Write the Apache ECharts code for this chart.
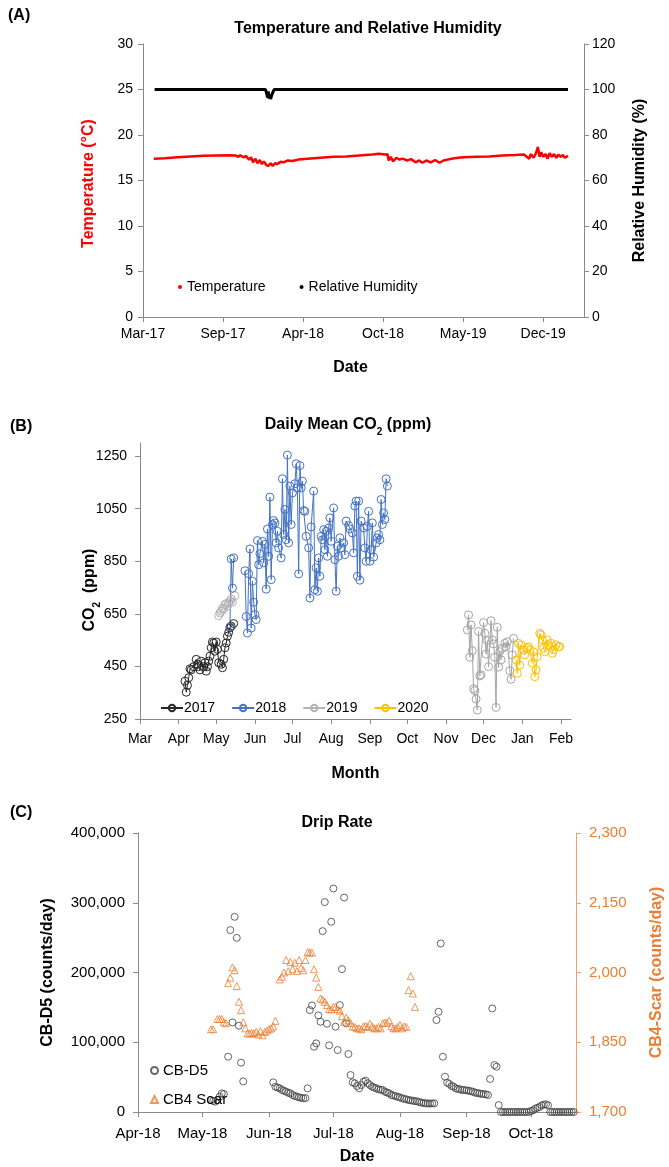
<!DOCTYPE html>
<html>
<head>
<meta charset="utf-8">
<script src="https://cdn.jsdelivr.net/npm/echarts@6/dist/echarts.min.js"></script>
<style>
  html, body { margin: 0; padding: 0; background: #fff; }
  #chart { width: 669px; height: 1167px; }
</style>
</head>
<body>
<div id="chart"></div>
<script>
// ---------- (A) Temperature and relative humidity ----------
// x = days since 2017-03-10
const cellDateOrigin = [2017, 2, 10];
const cellDateTicks = [0, 200, 400, 600, 800, 1000];
const temperature = [
  [27,17.4],[54,17.45],[86,17.55],[119,17.65],[151,17.72],[184,17.75],[216,17.78],[232,17.75],
  [238,17.6],[243,17.78],[251,17.55],[257,17.7],[265,17.3],[270,17.55],[275,17.0],[281,17.4],
  [286,16.9],[292,17.25],[297,16.8],[302,17.1],[308,16.7],[313,16.6],[319,16.9],[324,16.6],
  [330,16.9],[335,16.8],[344,17.05],[351,17.0],[362,17.2],[373,17.15],[389,17.3],[411,17.4],
  [443,17.5],[476,17.6],[508,17.65],[540,17.75],[573,17.85],[589,17.95],[605,17.85],[611,17.9],
  [614,17.2],[619,17.6],[625,17.1],[633,17.5],[640,17.3],[649,17.4],[660,17.2],[670,17.35],
  [681,17.0],[690,17.2],[698,16.95],[708,17.2],[719,17.0],[730,17.25],[741,16.95],[751,17.2],
  [762,17.3],[778,17.45],[800,17.55],[833,17.6],[865,17.65],[898,17.75],[930,17.8],[952,17.85],
  [965,17.4],[969,17.9],[976,17.5],[982,18.0],[987,18.7],[991,17.6],[995,18.1],[1000,17.6],
  [1006,17.9],[1011,17.4],[1016,18.0],[1022,17.6],[1027,17.9],[1033,17.5],[1038,17.85],
  [1044,17.6],[1049,17.8],[1054,17.5],[1062,17.7]
];
const humidity = [
  [29,100],[306,100],[309,98.5],[311,96.5],[313,99.2],[315,96],[317,97.8],[319,95.8],
  [321,97.2],[323,96.4],[325,99],[328,100],[370,100],[372,99.3],[374,100],[1062,100]
];

// ---------- (B) Daily mean CO2 ----------
// x = days since 1 March of each season
const seasonMonthDays = [0, 31, 61, 92, 122, 153, 184, 214, 245, 275, 306, 337];
const seasonMonthNames = ['Mar','Apr','May','Jun','Jul','Aug','Sep','Oct','Nov','Dec','Jan','Feb'];
const co2Ticks = [250, 450, 650, 850, 1050, 1250];
const co2_2017 = [
  [36,394],[37,352],[38,378],[39,407],[40,441],[41,437],[43,449],[45,477],[46,458],[47,449],
  [48,437],[49,470],[51,449],[52,464],[53,432],[54,449],[55,470],[56,489],[57,521],[58,543],
  [59,539],[60,508],[61,543],[62,515],[63,464],[65,458],[66,445],[67,477],[68,521],[69,539],
  [70,565],[71,580],[72,597],[73,603],[75,613]
];
const co2_2018a = [[72,600],[73,859],[74,748],[75,863]];
const co2_2018b = [
  [84,814],[85,640],[86,577],[87,803],[88,897],[89,596],[90,774],[91,694],[92,647],[93,628],
  [94,929],[95,837],[96,879],[98,926],[99,844],[100,914],[101,744],[102,973],[103,869],[104,1094],
  [105,780],[106,990],[107,1005],[108,996],[109,920],[110,964],[111,901],[113,863],[114,1164],[115,952],
  [116,1047],[117,932],[118,1254],[119,920],[120,1136],[121,990],[122,1110],[124,1145],[125,1221],[126,1129],
  [127,802],[128,1214],[129,1129],[130,1155],[131,1043],[132,1040],[133,945],[135,901],[136,710],[137,981],
  [139,1117],[140,742],[141,825],[142,736],[143,863],[144,793],[145,945],[146,932],[147,970],[148,894],
  [149,964],[150,869],[151,977],[152,1015],[153,926],[155,1053],[156,856],[157,736],[158,907],[159,869],
  [160,939],[161,901],[163,920],[164,875],[165,1003],[167,986],[168,973],[170,958],[171,882],[172,1060],
  [173,1079],[174,793],[175,1079],[176,778],[177,1003],[179,977],[180,901],[181,850],[182,983],[183,1040],
  [184,850],[185,894],[186,996],[187,866],[189,920],[190,939],[191,952],[192,932],[193,1085],[194,990],
  [195,1034],[196,1009],[197,1164],[198,1136]
];
const co2_2019a = [
  [63,643],[64,653],[65,660],[66,672],[67,668],[68,685],[69,689],[70,680],[71,691],[72,698],
  [73,706],[74,695],[76,719]
];
const co2_2019b = [
  [262,589],[263,646],[264,485],[265,608],[266,510],[267,365],[268,358],[269,326],[270,284],[271,583],
  [272,414],[273,418],[275,617],[276,576],[277,497],[278,548],[279,449],[281,624],[282,551],[283,536],
  [284,485],[285,294],[286,599],[287,447],[288,506],[289,475],[290,519],[292,538],[293,525],[294,544],
  [296,434],[297,401],[298,494],[299,557]
];
const co2_2020 = [
  [301,475],[302,424],[303,538],[304,455],[305,532],[307,513],[308,494],[310,519],[311,525],[312,513],
  [314,462],[315,506],[316,411],[317,437],[318,487],[320,576],[321,570],[322,551],[323,519],[324,506],
  [326,551],[327,532],[329,538],[330,500],[331,513],[333,532],[335,525],[336,525]
];

// ---------- (C) Drip rate ----------
// x = days since 2018-04-01
const dripMonthDays = [0, 30, 61, 91, 122, 153, 183];
const dripMonthNames = ['Apr-18','May-18','Jun-18','Jul-18','Aug-18','Sep-18','Oct-18'];
const scarTicks = [1700, 1850, 2000, 2150, 2300];
const cbD5 = [
  [34,17000],[35,15800],[36,14800],[37,17200],[38,22000],[39,26700],[40,25800],[42,79300],[43,260800],
  [44,128500],[45,279800],[46,249700],[47,123700],[48,70700],[49,43900],
  [63,42500],[64,36300],[65,35000],[66,33900],[67,31500],[68,30500],[69,29100],[70,27500],[71,26700],
  [72,24400],[73,23000],[74,22000],[75,21000],[76,20300],[77,19600],[78,20000],[79,33900],
  [80,146100],[81,152800],[82,93600],[83,98400],[84,138500],[85,129400],[86,259300],[87,300900],
  [88,126500],[89,95500],[90,272700],[91,320400],[92,122300],[93,88800],[94,153300],[95,204900],
  [96,307500],[97,127000],[98,83100],[99,53000],[100,42500],[101,41100],[102,37300],[103,33900],
  [104,38700],[105,43500],[106,44900],[107,41100],[108,38700],[109,36300],[110,35000],[111,33900],
  [112,32500],[113,32000],[114,31500],[115,29100],[116,28000],[117,26700],[118,24400],[119,23500],
  [120,22900],[121,21500],[122,21000],[123,19600],[124,18800],[125,18100],[126,17200],[127,16700],
  [128,16200],[129,15600],[130,15300],[131,14300],[132,13400],[133,12900],[134,12400],[135,12400],
  [136,12000],[137,12400],[138,12400],
  [139,131800],[140,143700],[141,241600],[142,79300],[143,50600],[144,42000],[145,40200],[146,37300],
  [147,36300],[148,33900],[149,33000],[150,32500],[151,31500],[152,31500],[153,31000],[154,30600],
  [155,29800],[156,29100],[157,27700],[158,27200],[159,26700],[160,25800],[161,25800],[162,25300],
  [163,24400],[164,47300],[165,148500],[166,67300],[167,64900],[168,10000],[169,0],[170,0],[171,0],
  [172,0],[173,0],[174,0],[175,0],[176,0],[177,0],[178,0],[179,0],[180,0],[181,0],[182,0],
  [183,1500],[184,2400],[185,4800],[186,6000],[187,7200],[188,9600],[189,10500],[190,11000],[191,9600],
  [192,0],[193,0],[194,0],[195,0],[196,0],[197,0],[198,0],[199,0],[200,0],[201,0],[202,0],[203,0]
];
const cb4Scar = [
  [34,1878],[35,1878],[37,1900],[38,1900],[39,1900],[40,1893],[41,1891],[42,1977],[43,1989],[44,2011],
  [45,2005],[46,1971],[47,1937],[48,1919],[49,1893],[50,1880],[51,1869],[52,1869],[53,1870],[54,1869],
  [55,1872],[56,1867],[57,1874],[58,1865],[59,1872],[60,1875],[61,1878],[62,1880],[63,1884],[64,1896],
  [66,1985],[67,1991],[68,2000],[69,2027],[70,2003],[71,2023],[72,2007],[73,2021],[74,2003],[75,2027],
  [76,2010],[77,2005],[78,2027],[79,2044],[80,2043],[81,2043],[82,2007],[83,1989],[84,1969],[85,1944],
  [86,1942],[87,1937],[88,1930],[89,1921],[90,1921],[91,1926],[92,1926],[93,1921],[94,1918],[95,1906],
  [96,1894],[97,1903],[98,1897],[99,1891],[100,1884],[101,1883],[102,1880],[103,1880],[104,1878],[105,1884],
  [106,1885],[107,1883],[108,1890],[109,1884],[110,1880],[111,1880],[112,1883],[113,1880],[114,1891],[115,1892],
  [116,1892],[117,1897],[118,1884],[119,1880],[120,1880],[121,1883],[122,1887],[123,1880],[124,1884],[125,1883],
  [126,1962],[127,1992],[128,1955],[129,1926]
];

// ---------- styling ----------
const FONT = '"Liberation Sans", Arial, sans-serif';
const AXIS_GREY = '#8a8a8a';
const ORANGE = '#ED7D31';
const MONTHS = ['Jan','Feb','Mar','Apr','May','Jun','Jul','Aug','Sep','Oct','Nov','Dec'];

function cellDateLabel(v) {
  const d = new Date(cellDateOrigin[0], cellDateOrigin[1], cellDateOrigin[2] + v);
  return MONTHS[d.getMonth()] + '-' + String(d.getFullYear()).slice(2);
}
function thousands(v) { return Math.round(v).toLocaleString('en-US'); }

function axisBase(extra) {
  return Object.assign({
    type: 'value',
    splitLine: { show: false },
    axisLine: { show: true, onZero: false, lineStyle: { color: AXIS_GREY, width: 1 } },
    axisTick: { show: true, inside: false, length: 5, lineStyle: { color: AXIS_GREY } },
    axisLabel: { color: '#000', fontFamily: FONT, fontSize: 14 },
    nameLocation: 'middle',
    nameMoveOverlap: false,
    nameTextStyle: { color: '#000', fontFamily: FONT, fontSize: 16, fontWeight: 'bold' }
  }, extra);
}

const subRich = {
  sub: { fontFamily: FONT, fontSize: 10, fontWeight: 'bold', color: '#000', verticalAlign: 'bottom', lineHeight: 10, padding: [0, 0, -4, 0] }
};

function co2Series(name, data, color) {
  return {
    type: 'line', name: name, data: data, xAxisIndex: 1, yAxisIndex: 2,
    symbol: 'circle', symbolSize: 8,
    lineStyle: { color: color, width: 1 },
    itemStyle: { color: 'rgba(255,255,255,0)', borderColor: color, borderWidth: 1 },
    emphasis: { disabled: true }
  };
}

const chart = echarts.init(document.getElementById('chart'), null, { renderer: 'canvas' });
chart.setOption({
  animation: false,
  backgroundColor: '#fff',
  textStyle: { fontFamily: FONT },
  grid: [
    { left: 143, top: 44, width: 441, height: 273, outerBoundsMode: 'none' },
    { left: 140, top: 443, width: 431, height: 276, outerBoundsMode: 'none' },
    { left: 138, top: 833, width: 438, height: 279, outerBoundsMode: 'none' }
  ],
  graphic: [
    { type: 'text', x: 8, y: 16, style: { text: '(A)', font: 'bold 16px ' + FONT, fill: '#000', verticalAlign: 'middle' } },
    { type: 'text', x: 10, y: 427, style: { text: '(B)', font: 'bold 16px ' + FONT, fill: '#000', verticalAlign: 'middle' } },
    { type: 'text', x: 10, y: 813, style: { text: '(C)', font: 'bold 16px ' + FONT, fill: '#000', verticalAlign: 'middle' } },
    { type: 'text', x: 368, y: 29, style: { text: 'Temperature and Relative Humidity', font: 'bold 16px ' + FONT, fill: '#000', align: 'center', verticalAlign: 'middle' } },
    { type: 'text', x: 348, y: 425, style: {
        text: 'Daily Mean CO{sub|2} (ppm)', font: 'bold 16px ' + FONT, fill: '#000', align: 'center', verticalAlign: 'middle',
        rich: { sub: { font: 'bold 10px ' + FONT, fill: '#000', verticalAlign: 'bottom', padding: [0, 0, -4, 0] } } } },
    { type: 'text', x: 337, y: 823, style: { text: 'Drip Rate', font: 'bold 16px ' + FONT, fill: '#000', align: 'center', verticalAlign: 'middle' } }
  ],
  legend: [
    {
      left: 178, top: 280, padding: 0, itemWidth: 4, itemHeight: 4, itemGap: 34, icon: 'circle',
      textStyle: { fontFamily: FONT, fontSize: 14, color: '#000' },
      data: ['Temperature', 'Relative Humidity'], selectedMode: false
    },
    {
      left: 160, top: 701, padding: 0, itemWidth: 22, itemHeight: 8, itemGap: 16,
      textStyle: { fontFamily: FONT, fontSize: 14, color: '#000', padding: [0, 0, 0, -4] },
      data: ['2017', '2018', '2019', '2020'], selectedMode: false
    },
    {
      left: 150, top: 1063, padding: 0, orient: 'vertical', itemWidth: 7, itemHeight: 7, itemGap: 14,
      textStyle: { fontFamily: FONT, fontSize: 15, color: '#000' },
      data: [{ name: 'CB-D5', icon: 'circle' }, { name: 'CB4 Scar', icon: 'triangle' }], selectedMode: false
    }
  ],
  xAxis: [
    axisBase({
      gridIndex: 0, min: 0, max: 1102, name: 'Date', nameGap: 43,
      nameTextStyle: { color: '#000', fontFamily: FONT, fontSize: 16, fontWeight: 'bold', padding: [0, 26, 0, 0] },
      axisTick: { show: true, length: 5, lineStyle: { color: AXIS_GREY }, customValues: cellDateTicks },
      axisLabel: { color: '#000', fontFamily: FONT, fontSize: 14, margin: 10, customValues: cellDateTicks, formatter: cellDateLabel }
    }),
    axisBase({
      gridIndex: 1, min: 0, max: 345, name: 'Month', nameGap: 47,
      axisTick: { show: true, length: 5, lineStyle: { color: AXIS_GREY }, customValues: seasonMonthDays },
      axisLabel: { color: '#000', fontFamily: FONT, fontSize: 14, margin: 13, customValues: seasonMonthDays,
        formatter: v => seasonMonthNames[seasonMonthDays.indexOf(v)] || '' }
    }),
    axisBase({
      gridIndex: 2, min: 0, max: 204, name: 'Date', nameGap: 37,
      axisTick: { show: true, length: 5, lineStyle: { color: AXIS_GREY }, customValues: dripMonthDays },
      axisLabel: { color: '#000', fontFamily: FONT, fontSize: 15, margin: 14, customValues: dripMonthDays,
        formatter: v => dripMonthNames[dripMonthDays.indexOf(v)] || '' }
    })
  ],
  yAxis: [
    axisBase({
      gridIndex: 0, min: 0, max: 30, interval: 5, name: 'Temperature (°C)', nameGap: 46, nameRotate: 90,
      nameTextStyle: { color: '#FF0000', fontFamily: FONT, fontSize: 16, fontWeight: 'bold', padding: [0, 6, 0, 0] },
      axisLabel: { color: '#000', fontFamily: FONT, fontSize: 14, margin: 10 }
    }),
    axisBase({
      gridIndex: 0, position: 'right', min: 0, max: 120, interval: 20, name: 'Relative Humidity (%)', nameGap: 48, nameRotate: 90,
      axisLabel: { color: '#000', fontFamily: FONT, fontSize: 14, margin: 8 }
    }),
    axisBase({
      gridIndex: 1, min: 250, max: 1300, nameGap: 42, nameRotate: 90,
      name: 'CO{sub|2}  (ppm)',
      nameTextStyle: { color: '#000', fontFamily: FONT, fontSize: 16, fontWeight: 'bold', rich: subRich, padding: [0, 18, 0, 0] },
      axisTick: { show: true, length: 5, lineStyle: { color: AXIS_GREY }, customValues: co2Ticks },
      axisLabel: { color: '#000', fontFamily: FONT, fontSize: 14, margin: 13, customValues: co2Ticks, formatter: v => String(v) }
    }),
    axisBase({
      gridIndex: 2, min: 0, max: 400000, interval: 100000, name: 'CB-D5 (counts/day)', nameGap: 82, nameRotate: 90,
      axisLabel: { color: '#000', fontFamily: FONT, fontSize: 15, margin: 13, formatter: thousands }
    }),
    axisBase({
      gridIndex: 2, position: 'right', min: 1700, max: 2300, name: 'CB4-Scar (counts/day)', nameGap: 73, nameRotate: 90,
      nameTextStyle: { color: ORANGE, fontFamily: FONT, fontSize: 16, fontWeight: 'bold' },
      axisLine: { show: true, onZero: false, lineStyle: { color: '#F2A06A', width: 1 } },
      axisTick: { show: true, length: 5, lineStyle: { color: '#F2A06A' }, customValues: scarTicks },
      axisLabel: { color: ORANGE, fontFamily: FONT, fontSize: 15, margin: 13, customValues: scarTicks, formatter: thousands }
    })
  ],
  series: [
    {
      type: 'line', name: 'Relative Humidity', data: humidity, xAxisIndex: 0, yAxisIndex: 1,
      showSymbol: false, symbol: 'circle', color: '#000',
      lineStyle: { color: '#000', width: 3 }, emphasis: { disabled: true }
    },
    {
      type: 'line', name: 'Temperature', data: temperature, xAxisIndex: 0, yAxisIndex: 0,
      showSymbol: false, symbol: 'circle', color: '#FF0000',
      lineStyle: { color: '#FF0000', width: 2.5 }, emphasis: { disabled: true }
    },
    co2Series('2019', co2_2019a, '#B4B4B4'),
    co2Series('2019', co2_2019b, '#A5A5A5'),
    co2Series('2017', co2_2017, '#262626'),
    co2Series('2018', co2_2018a, '#4472C4'),
    co2Series('2018', co2_2018b, '#4472C4'),
    co2Series('2020', co2_2020, '#FFC000'),
    {
      type: 'scatter', name: 'CB-D5', data: cbD5, xAxisIndex: 2, yAxisIndex: 3,
      symbol: 'circle', symbolSize: 7, clip: false,
      itemStyle: { color: 'rgba(255,255,255,0)', borderColor: '#404040', borderWidth: 1 },
      emphasis: { disabled: true }
    },
    {
      type: 'scatter', name: 'CB4 Scar', data: cb4Scar, xAxisIndex: 2, yAxisIndex: 4,
      symbol: 'triangle', symbolSize: 7, clip: false,
      itemStyle: { color: 'rgba(255,255,255,0)', borderColor: ORANGE, borderWidth: 1 },
      emphasis: { disabled: true }
    }
  ]
});
</script>
</body>
</html>
